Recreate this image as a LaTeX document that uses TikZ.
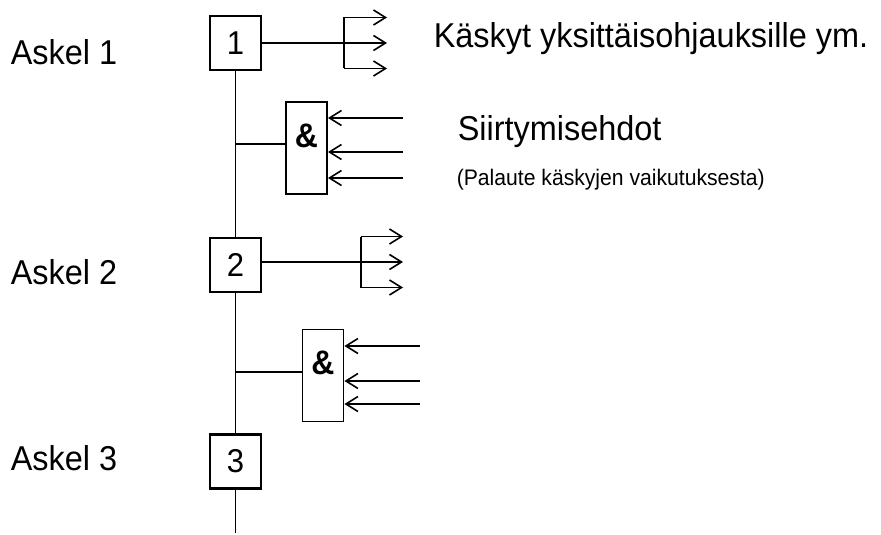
\documentclass[tikz,border=0pt]{standalone}
\usepackage{fontspec}
\setmainfont{Liberation Sans}[FakeStretch=0.94]
\usetikzlibrary{positioning, arrows.meta}

\begin{document}
\begin{tikzpicture}[
    x=1pt, y=-1pt,
    font=\fontsize{34.5}{40}\selectfont,
    line width=1.6pt,
    stepbox/.style={rectangle, draw, line width=2.2pt, minimum width=51pt, minimum height=54pt, inner sep=0pt, font=\fontsize{33}{40}\selectfont},
    gatebox/.style={rectangle, draw, line width=1.9pt, minimum width=41pt, minimum height=92pt, inner sep=0pt, text depth=25pt, font=\fontsize{34}{40}\selectfont\bfseries},
    label/.style={anchor=base west, inner sep=0pt},
    note/.style={label, font=\fontsize{22.5}{26}\selectfont},
    arrow/.style={-{Straight Barb[length=12pt, width=15pt, line width=1.6pt]}}
]
\useasboundingbox (0,0) rectangle (881,535);

% Steps
\node[stepbox] (step1) at (235.5,43) {1};
\node[stepbox, below=166pt of step1] (step2) {2};
\node[stepbox, below=140pt of step2] (step3) {3};
\coordinate (end) at (235.5,533);

\draw (step1) -- (step2);
\draw (step2) -- (step3);
\draw (step3) -- (end);

\node[label] (askel1) at (10,64) {Askel 1};
\node[label] (askel2) at (10,284) {Askel 2};
\node[label] (askel3) at (10,470) {Askel 3};

% Commands
\coordinate (fork1) at (344,43);
\coordinate (cmd1) at (387,43);
\coordinate (fork2) at (361,262);
\coordinate (cmd2) at (403,262);

\draw[arrow] (step1) -- (cmd1);
\draw (fork1) ++(0,-25.5) -- ++(0,51);
\foreach \dy in {-25.5,25.5}
    \draw[arrow] (fork1) ++(0,\dy) -- ++(43,0);

\draw[arrow] (step2.east |- cmd2) -- (cmd2);
\draw (fork2) ++(0,-25.5) -- ++(0,51);
\foreach \dy in {-25.5,25.5}
    \draw[arrow] (fork2) ++(0,\dy) -- ++(42,0);

\node[label] (cmdtext) at (433,48) {Käskyt yksittäisohjauksille ym.};

% Transitions
\node[gatebox] (and1) at (306.5,148) {\&};
\node[gatebox] (and2) at (323,375.5) {\&};

\draw ([yshift=4pt]and1.west) -- ([yshift=4pt]and1.west -| step1.south);
\draw ([yshift=3.5pt]and2.west) -- ([yshift=3.5pt]and2.west -| step2.south);

\foreach \y [count=\i] in {118,152,178} {
    \coordinate (in1\i) at (403,\y);
    \draw[arrow] (in1\i) -- (in1\i -| and1.east);
}
\foreach \y [count=\i] in {346,381,404} {
    \coordinate (in2\i) at (420,\y);
    \draw[arrow] (in2\i) -- (in2\i -| and2.east);
}

\node[label] (trans) at (457,140) {Siirtymisehdot};
\node[note] (feedback) at (456,185) {(Palaute käskyjen vaikutuksesta)};

\end{tikzpicture}
\end{document}
